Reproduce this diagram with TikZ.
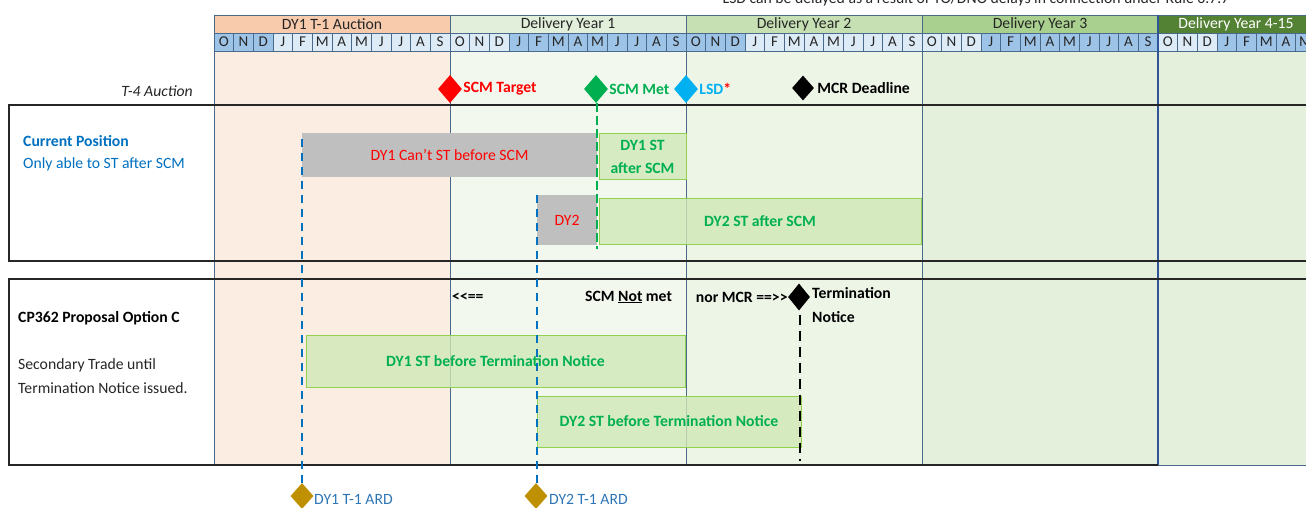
\documentclass[tikz,border=0pt]{standalone}
\usepackage{fontspec}
\setmainfont{Carlito}
\usetikzlibrary{shapes.geometric}

% column backgrounds
\definecolor{bgAuc}{HTML}{FCEDE3}
\definecolor{bgDYa}{HTML}{F3F8EF}
\definecolor{bgDYb}{HTML}{EDF5E7}
\definecolor{bgDYc}{HTML}{E4F0DC}
% year header fills
\definecolor{hdAuc}{HTML}{F8CBAD}
\definecolor{hdDYa}{HTML}{E2EFDA}
\definecolor{hdDYb}{HTML}{C6E0B4}
\definecolor{hdDYc}{HTML}{A9D08E}
\definecolor{hdDYd}{HTML}{548235}
% month cells and rules
\definecolor{mDark}{HTML}{9DC3E6}
\definecolor{mLight}{HTML}{DDEBF7}
\definecolor{gridline}{HTML}{4A6A8C}
\definecolor{yrline}{HTML}{2F5597}
% text and marker colours
\definecolor{cRed}{HTML}{FF0000}
\definecolor{cGreen}{HTML}{00B050}
\definecolor{cCyan}{HTML}{00B0F0}
\definecolor{cBlue}{HTML}{0070C0}
\definecolor{cArd}{HTML}{2E75B6}
\definecolor{cGold}{HTML}{BF9000}
\definecolor{stFill}{HTML}{CFE8B6}
\definecolor{stEdge}{HTML}{92D050}
\definecolor{greyBox}{HTML}{BFBFBF}

\newcommand{\txtsize}{\fontsize{15.7}{18}\selectfont}

\tikzset{
  base/.style={inner sep=0pt, font=\txtsize},
  yearcell/.style={base, draw=gridline, line width=0.8pt, minimum width=236pt, minimum height=18pt, text=black!85},
  monthcell/.style={base, draw=gridline, line width=0.6pt, minimum width=19.667pt, minimum height=18pt,
    font=\fontsize{15}{16}\selectfont, text=black!85},
  milestone/.style={diamond, inner sep=0pt, minimum width=24pt, minimum height=28pt},
  mslabel/.style={base, anchor=west, font=\txtsize\bfseries},
  greybar/.style={base, fill=greyBox, text=cRed},
  stbar/.style={base, fill=stFill, fill opacity=0.8, text opacity=1, draw=stEdge, line width=1pt,
    text=cGreen, font=\txtsize\bfseries},
  colrule/.style={draw=gridline, line width=0.8pt},
  frameline/.style={draw=black!85, line width=2pt},
  bluedash/.style={draw=cBlue, line width=1.6pt, dash pattern=on 8pt off 6pt},
  greendash/.style={draw=cGreen, line width=1.8pt, dash pattern=on 9pt off 4pt},
  blackdash/.style={draw=black, line width=1.8pt, dash pattern=on 10pt off 6pt},
  sidetext/.style={base, anchor=west}
}

\begin{document}
\begin{tikzpicture}[x=1pt, y=-1pt]
\useasboundingbox (0,0) rectangle (1306,508);
\clip (0,0) rectangle (1306,508);

% year column backgrounds
\fill[bgAuc] (214,51) rectangle (450,465);
\fill[bgDYa] (450,51) rectangle (686,465);
\fill[bgDYb] (686,51) rectangle (922,465);
\fill[bgDYc] (922,51) rectangle (1158,465);
\fill[bgDYc] (1158,51) rectangle (1320,465);

% note above the header
\node[base, anchor=base, text=black!85] (note) at (976,3.5)
  {LSD can be delayed as a result of TO/DNO delays in connection under Rule 6.7.7};

% year header row
\node[yearcell, fill=hdAuc] (hy0) at (332,24) {DY1 T-1 Auction};
\node[yearcell, fill=hdDYa] (hy1) at (568,24) {Delivery Year 1};
\node[yearcell, fill=hdDYb] (hy2) at (804,24) {Delivery Year 2};
\node[yearcell, fill=hdDYc] (hy3) at (1040,24) {Delivery Year 3};
\node[yearcell, fill=hdDYd, text=white, minimum width=156pt] (hy4) at (1236,24) {Delivery Year 4-15};

% month row
\foreach \yr/\ca/\cb in {0/mDark/mLight,1/mLight/mDark,2/mDark/mLight,3/mLight/mDark,4/mLight/mDark}{
  \foreach \ml [count=\i from 0] in {O,N,D,J,F,M,A,M,J,J,A,S}{
    \ifnum\i<3 \def\mc{\ca}\else\def\mc{\cb}\fi
    \node[monthcell, fill=\mc] (mo-\yr-\i) at ({214+236*\yr+19.6667*(\i+0.5)},42) {\ml};
  }
}

% column rules
\draw[colrule] (214,15) -- (214,465);
\draw[colrule] (450,15) -- (450,465);
\draw[colrule] (686,15) -- (686,465);
\draw[colrule] (922,15) -- (922,465);
\draw[draw=yrline, line width=1.8pt] (1158,15) -- (1158,465);

% scenario frames
\draw[frameline] (1320,105) -- (9,105) -- (9,261) -- (1320,261);
\draw[frameline] (1320,279) -- (9,279) -- (9,465) -- (1158,465);
\draw[draw=gridline, line width=0.8pt] (1158,465) -- (1320,465);

% left-hand labels
\node[base, anchor=east, font=\txtsize\itshape, text=black!85] (t4) at (193,91) {T-4 Auction};
\node[sidetext, text=cBlue, font=\txtsize\bfseries] (curpos) at (23,141) {Current Position};
\node[sidetext, text=cBlue] (curdesc) at (23,164) {Only able to ST after SCM};
\node[sidetext, text=black, font=\txtsize\bfseries] (optc) at (18,318) {CP362 Proposal Option C};
\node[sidetext, text=black!85] (optca) at (18,365) {Secondary Trade until};
\node[sidetext, text=black!85] (optcb) at (18,388) {Termination Notice issued.};

% current position bars
\node[greybar, minimum width=295pt, minimum height=44pt] (dy1no) at (449.5,155) {DY1 Can’t ST before SCM};
\node[greybar, minimum width=60pt, minimum height=50pt] (dy2no) at (567,220) {DY2};
\node[stbar, minimum width=87pt, minimum height=45pt, align=center,
      font=\fontsize{15.7}{23}\selectfont\bfseries] (dy1st) at (642.5,156.5) {DY1 ST\\after SCM};
\node[stbar, minimum width=322pt, minimum height=46pt] (dy2st) at (760,221) {DY2 ST after SCM};

% option C bars
\node[stbar, minimum width=379pt, minimum height=52pt] (dy1tn) at (495.5,361) {DY1 ST before Termination Notice};
\node[stbar, minimum width=264pt, minimum height=51pt] (dy2tn) at (669,421.5) {DY2 ST before Termination Notice};

% milestones on the T-4 row
\node[milestone, fill=cRed] (scmt) at (450,89) {};
\node[mslabel, text=cRed] (scmtl) at ([xshift=1pt]scmt.east) {SCM Target};
\node[milestone, fill=cGreen] (scmm) at (596,89) {};
\node[mslabel, text=cGreen] (scmml) at ([xshift=1pt]scmm.east) {SCM Met};
\node[milestone, fill=cCyan] (lsd) at (686,89) {};
\node[mslabel, text=cCyan] (lsdl) at ([xshift=1pt]lsd.east) {LSD\textcolor{cRed}{*}};
\node[milestone, fill=black, minimum width=22pt, minimum height=25pt] (mcr) at (803,88) {};
\node[mslabel, text=black] (mcrl) at ([xshift=3pt]mcr.east) {MCR Deadline};

% termination notice milestone
\node[milestone, fill=black, minimum width=22pt, minimum height=27pt] (term) at (799,297) {};
\node[mslabel, text=black, align=left, font=\fontsize{15.7}{24}\selectfont\bfseries] (terml) at (812,305) {Termination\\Notice};
\node[base, anchor=east, text=black, font=\txtsize\bfseries] (normcr) at (term.west) {nor MCR ==>{}>};
\node[base, anchor=west, text=black, font=\txtsize\bfseries] (larr) at (452,297) {<{}<==};
\node[base, anchor=west, text=black, font=\txtsize\bfseries] (notmet) at (585,297) {SCM \underline{Not} met};

% auction result dates
\node[milestone, fill=cGold, minimum width=23pt, minimum height=26pt] (ard1) at (302,496) {};
\node[base, anchor=west, text=cArd] (ard1l) at (314,499) {DY1 T-1 ARD};
\node[milestone, fill=cGold, minimum width=23pt, minimum height=26pt] (ard2) at (536,496) {};
\node[base, anchor=west, text=cArd] (ard2l) at (549,499) {DY2 T-1 ARD};

% guide lines
\coordinate (ard1top) at (302,133);
\coordinate (ard2top) at (537,193);
\coordinate (scmmbot) at (597,249);
\coordinate (termbot) at (800,461);
\draw[bluedash] (ard1.north) -- (ard1top);
\draw[bluedash] ([xshift=1pt]ard2.north) -- (ard2top);
\draw[greendash] ([xshift=1pt]scmm.south) -- (scmmbot);
\draw[blackdash] ([xshift=1pt,yshift=-4pt]term.south) -- (termbot);
\end{tikzpicture}
\end{document}
